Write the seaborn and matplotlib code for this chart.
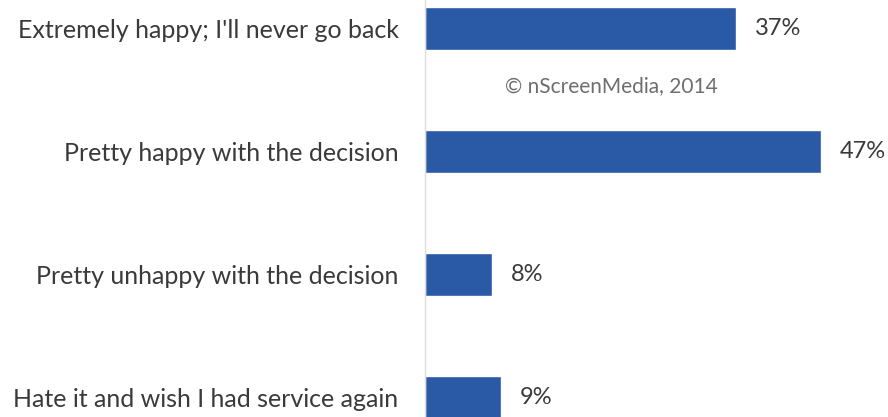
import matplotlib
matplotlib.use("Agg")
import matplotlib.pyplot as plt
import seaborn as sns
import pandas as pd

categories = [
    "Extremely happy; I'll never go back",
    "Pretty happy with the decision",
    "Pretty unhappy with the decision",
    "Hate it and wish I had service again",
]
values = [37, 47, 8, 9]
value_labels = ["37%", "47%", "8%", "9%"]

sns.set_theme(style="white")
plt.rcParams['font.family'] = ['Lato', 'DejaVu Sans']

df = pd.DataFrame({"category": categories, "value": values})

fig = plt.figure(figsize=(8.88, 4.17), dpi=100)
ax = fig.add_axes([425 / 888, 0, 1 - 425 / 888, 1])

sns.barplot(data=df, x="value", y="category", orient="h", color="#2a5aa6",
            width=0.35, saturation=1, ax=ax)

ax.set_xlim(0, 55)
ax.set_ylim(3.162, -0.236)
ax.set_xlabel("")
ax.set_ylabel("")
ax.set_xticks([])
ax.tick_params(axis="y", length=0, pad=19, labelsize=18, labelcolor="#3a3a3a")
for s in ["top", "right", "bottom"]:
    ax.spines[s].set_visible(False)
ax.spines["left"].set_color("#dcdcdc")
ax.spines["left"].set_linewidth(1)

ax.bar_label(ax.containers[0], labels=value_labels, padding=13.5, fontsize=17,
             color="#3a3a3a")

ax.text(22.1, 0.465, "\u00a9 nScreenMedia, 2014", ha="center", va="center",
        fontsize=15, color="#6e6e6e")

fig.savefig("out.png", dpi=100)
